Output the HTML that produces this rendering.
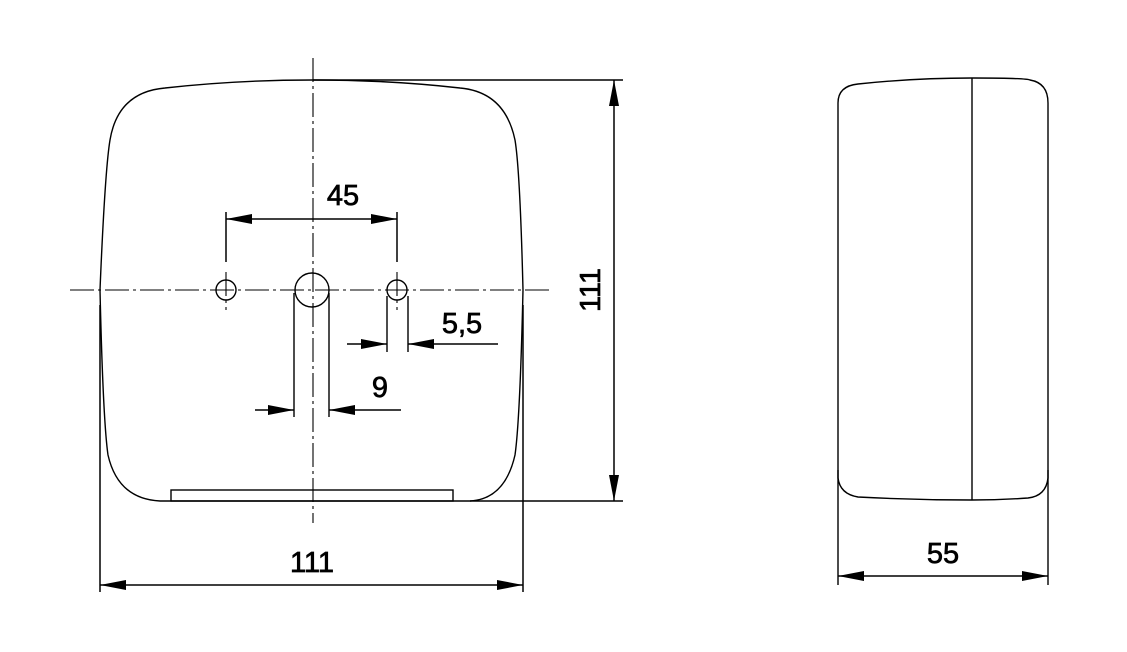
<!DOCTYPE html>
<html><head><meta charset="utf-8"><style>
html,body{margin:0;padding:0;background:#fff;}
svg{display:block;}
text{font-family:"Liberation Sans",Arial,sans-serif;fill:#000;stroke:#000;stroke-width:0.7;}
</style></head><body>
<svg width="1127" height="652" viewBox="0 0 1127 652" xmlns="http://www.w3.org/2000/svg">
<defs>
<marker id="a" viewBox="0 0 26 12" refX="26" refY="6" markerWidth="26" markerHeight="12" markerUnits="userSpaceOnUse" orient="auto-start-reverse"><path d="M0,1 L26,6 L0,11 Z" fill="#000"/></marker>
</defs>
<g fill="none" stroke="#000" stroke-width="1.4">
<path d="M160,501 L470,501 Q505,499 515,455 Q520,420 523,290 Q520,170 515,140 Q505,92 460,88 Q390,80 313,80 Q236,80 165,88 Q118,92 110,140 Q105,170 100,290 Q103,420 108,455 Q118,499 160,501 Z"/>
<rect x="171" y="490" width="282" height="11"/>
<circle cx="226" cy="290" r="10"/>
<circle cx="397" cy="290" r="10"/>
<circle cx="312" cy="290" r="17"/>
<line x1="294" y1="293" x2="294" y2="417"/>
<line x1="329" y1="293" x2="329" y2="417"/>
<line x1="387" y1="296" x2="387" y2="352"/>
<line x1="408" y1="296" x2="408" y2="352"/>
</g>
<g stroke="#000" stroke-width="1.1" stroke-dasharray="24,4,3,4" fill="none">
<line x1="313" y1="58" x2="313" y2="523"/>
<line x1="70" y1="290" x2="553" y2="290"/>
<line x1="226" y1="272" x2="226" y2="310"/>
<line x1="397" y1="272" x2="397" y2="310"/>
</g>
<g stroke="#000" stroke-width="1.5" fill="none">
<line x1="226" y1="212" x2="226" y2="262"/>
<line x1="397" y1="212" x2="397" y2="262"/>
<line x1="226" y1="219" x2="397" y2="219" marker-start="url(#a)" marker-end="url(#a)"/>
<line x1="347" y1="344" x2="387" y2="344" marker-end="url(#a)"/>
<line x1="498" y1="344" x2="408" y2="344" marker-end="url(#a)"/>
<line x1="255" y1="410" x2="294" y2="410" marker-end="url(#a)"/>
<line x1="401" y1="410" x2="329" y2="410" marker-end="url(#a)"/>
<line x1="313" y1="80" x2="623" y2="80"/>
<line x1="470" y1="501" x2="623" y2="501"/>
<line x1="614" y1="80" x2="614" y2="501" marker-start="url(#a)" marker-end="url(#a)"/>
<line x1="100" y1="305" x2="100" y2="592"/>
<line x1="523" y1="305" x2="523" y2="592"/>
<line x1="100" y1="585" x2="523" y2="585" marker-start="url(#a)" marker-end="url(#a)"/>
</g>
<g stroke="#000" stroke-width="1.4" fill="none">
<path d="M838,103 Q838,86 858,84 Q915,78 972,78 Q1025,78 1030,80 Q1048,83 1048,103 L1048,478 Q1046,496 1028,498 Q1000,500 972,500 Q915,500 858,497 Q840,494 838,478 Z"/>
<line x1="972" y1="78" x2="972" y2="500"/>
<line x1="838" y1="470" x2="838" y2="585"/>
<line x1="1048" y1="470" x2="1048" y2="585"/>
<line x1="838" y1="576" x2="1048" y2="576" marker-start="url(#a)" marker-end="url(#a)"/>
</g>
<g font-size="29" text-anchor="middle">
<text x="343" y="205">45</text>
<text x="462" y="333">5,5</text>
<text x="380" y="397">9</text>
<text x="312" y="572">111</text>
<text x="943" y="563">55</text>
<text x="0" y="0" transform="translate(600,290) rotate(-90)">111</text>
</g>
</svg>
</body></html>
